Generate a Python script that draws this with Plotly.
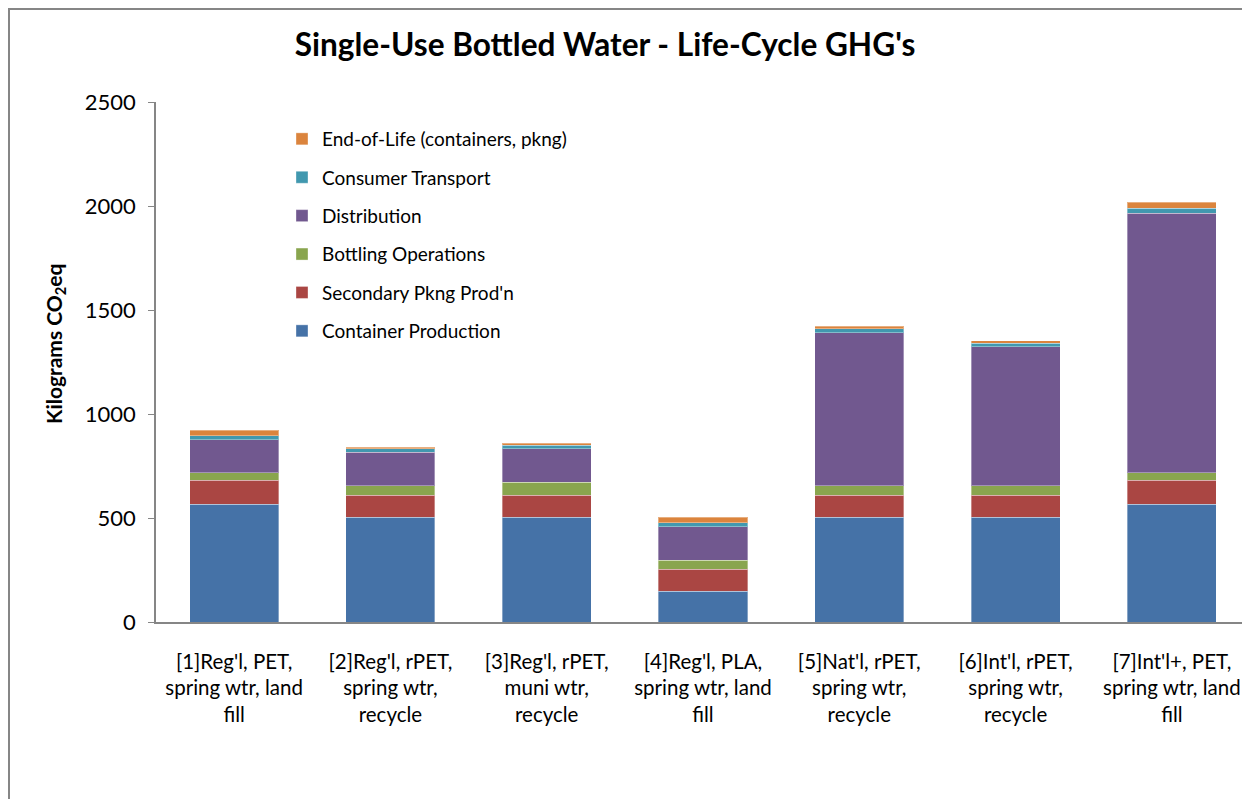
import plotly.graph_objects as go

categories = [
    "[1]Reg'l, PET,<br>spring wtr, land<br>fill",
    "[2]Reg'l, rPET,<br>spring wtr,<br>recycle",
    "[3]Reg'l, rPET,<br>muni wtr,<br>recycle",
    "[4]Reg'l, PLA,<br>spring wtr, land<br>fill",
    "[5]Nat'l, rPET,<br>spring wtr,<br>recycle",
    "[6]Int'l, rPET,<br>spring wtr,<br>recycle",
    "[7]Int'l+, PET,<br>spring wtr, land<br>fill",
]

container_production = [566, 503, 503, 148, 503, 503, 566]
secondary_pkng = [115, 106, 106, 105, 106, 106, 115]
bottling_operations = [37, 46, 64, 45, 46, 46, 37]
distribution = [158, 161, 159, 160, 736, 669, 1247]
consumer_transport = [20, 16, 18, 18, 19, 16, 25]
end_of_life = [27, 9, 9, 27, 13, 11, 28]

series_names = [
    "Container Production",
    "Secondary Pkng Prod'n",
    "Bottling Operations",
    "Distribution",
    "Consumer Transport",
    "End-of-Life (containers, pkng)",
]
series_values = [container_production, secondary_pkng, bottling_operations,
                 distribution, consumer_transport, end_of_life]
series_colors = ["#4572A7", "#AA4643", "#89A54E", "#71588F", "#4198AF", "#DB843D"]

FONT = "Lato"

fig = go.Figure()
n = len(series_names)
for i, (name, vals, col) in enumerate(zip(series_names, series_values, series_colors)):
    fig.add_trace(go.Bar(
        x=categories, y=vals, name=name,
        marker=dict(color=col, line=dict(color="rgba(255,255,255,0.35)", width=1)),
        legendgroup=f"g{i}",
        legendrank=n - i,
    ))

# page has an 8px body margin: work in page coords, convert to figure coords
D = 8
W, H = 1250 - D, 799 - D
L, R, T, B = 156 - D, 0, 102 - D, 799 - 622
pw = W - L - R
ph = H - T - B

def px(x):
    return (x - D - L) / pw

def py(y):
    return (H - B - (y - D)) / ph

fig.update_layout(
    width=W, height=H,
    barmode="stack",
    bargap=0.43,
    plot_bgcolor="white",
    paper_bgcolor="white",
    margin=dict(l=L, r=R, t=T, b=B),
    font=dict(family=FONT, color="#000000", size=21),
    title=dict(text="<b>Single-Use Bottled Water - Life-Cycle GHG's</b>",
               x=px(605), xref="paper", xanchor="center",
               y=1 - (45 - D) / H, yref="container", yanchor="middle",
               font=dict(family=FONT, size=31.6, color="#000000")),
    legend=dict(
        x=px(282), y=py(120), xanchor="left", yanchor="top",
        traceorder="grouped",
        tracegroupgap=10.7,
        font=dict(family=FONT, size=19, color="#000000"),
        bgcolor="rgba(0,0,0,0)",
    ),
    xaxis=dict(
        showline=True, linecolor="#868686", linewidth=2,
        ticks="", tickfont=dict(family=FONT, size=20.5, color="#000000"),
        ticklabelstandoff=20,
        showgrid=False,
    ),
    yaxis=dict(
        range=[0, 2500], tickvals=[0, 500, 1000, 1500, 2000, 2500],
        showline=True, linecolor="#868686", linewidth=1.5,
        ticks="outside", ticklen=6, tickcolor="#868686",
        tickfont=dict(family=FONT, size=22, color="#000000"),
        ticklabelstandoff=8,
        showgrid=False, zeroline=False,
    ),
    showlegend=True,
)

fig.add_annotation(
    text="<b>Kilograms CO<sub>2</sub>eq</b>",
    xref="paper", yref="paper", x=px(55), y=py(344),
    xanchor="center", yanchor="middle", textangle=-90, showarrow=False,
    font=dict(family=FONT, size=21, color="#000000"),
)

# chart-area border (runs off the page on the right and bottom)
fig.add_shape(type="line", xref="paper", yref="paper",
              x0=px(9), x1=px(9), y0=py(8), y1=py(820),
              line=dict(color="#868686", width=2))
fig.add_shape(type="line", xref="paper", yref="paper",
              x0=px(8), x1=px(1270), y0=py(9), y1=py(9),
              line=dict(color="#868686", width=2))

fig.write_html("out.html")
